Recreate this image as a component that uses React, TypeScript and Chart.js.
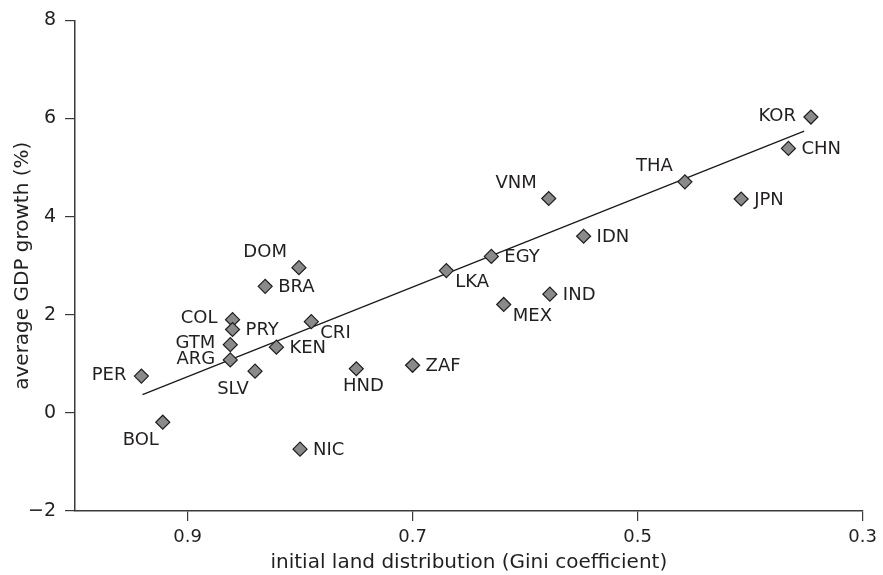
import React, { useEffect, useRef } from "react";
import { Chart, registerables } from "chart.js";

Chart.register(...registerables);

// ---- data ----
const countries = ["PER", "BOL", "COL", "PRY", "GTM", "ARG", "SLV", "KEN", "BRA", "DOM", "CRI", "NIC", "HND", "ZAF", "LKA", "EGY", "MEX", "VNM", "IND", "IDN", "THA", "JPN", "CHN", "KOR"];
const giniValues = [0.941, 0.922, 0.860, 0.860, 0.862, 0.862, 0.840, 0.821, 0.831, 0.801, 0.790, 0.800, 0.750, 0.700, 0.670, 0.630, 0.619, 0.579, 0.578, 0.548, 0.458, 0.408, 0.366, 0.346];
const growthValues = [0.75, -0.19, 1.90, 1.70, 1.39, 1.08, 0.85, 1.34, 2.58, 2.96, 1.86, -0.74, 0.90, 0.97, 2.90, 3.19, 2.21, 4.37, 2.42, 3.60, 4.71, 4.36, 5.39, 6.03];
// label placement relative to marker: R right, L left, TL above-left, BL below-left, BR below-right, B below
const labelPlacement = ["L", "BL", "L", "R", "L", "L", "BL", "R", "R", "TL", "BR", "R", "B", "R", "BR", "R", "BR", "TL", "R", "R", "TL", "R", "R", "L"];
const fitX = [0.94, 0.352];
const fitY = [0.37, 5.745];
const xTicks = [0.9, 0.7, 0.5, 0.3];
const yTicks = [-2, 0, 2, 4, 6, 8];

const FONT = "'DejaVu Sans', sans-serif";
const TEXT = "#231f20";
const AXIS = "#3a3a3a";

const labelPlugin = {
  id: "pointLabels",
  afterDatasetsDraw(chart: any) {
    const meta = chart.getDatasetMeta(0);
    const ctx = chart.ctx;
    ctx.save();
    ctx.font = `18px ${FONT}`;
    ctx.fillStyle = TEXT;
    ctx.textBaseline = "middle";
    meta.data.forEach((el: any, i: number) => {
      const p = labelPlacement[i];
      const t = countries[i];
      let x = el.x, y = el.y;
      if (p === "R") { ctx.textAlign = "left"; x += 13; y += 1; }
      else if (p === "L") { ctx.textAlign = "right"; x -= 15; y -= 1; }
      else if (p === "TL") { ctx.textAlign = "right"; x -= 12; y -= 15; }
      else if (p === "BL") { ctx.textAlign = "center"; x -= 22; y += 18; }
      else if (p === "BR") { ctx.textAlign = "left"; x += 9; y += 12; }
      else if (p === "B") { ctx.textAlign = "center"; x += 7; y += 18; }
      ctx.fillText(t, x, y);
    });
    ctx.restore();
  },
};

export default function App() {
  const ref = useRef<HTMLCanvasElement>(null);
  useEffect(() => {
    if (!ref.current) return;
    const chart = new Chart(ref.current, {
      type: "scatter",
      data: {
        datasets: [
          {
            label: "countries",
            data: giniValues.map((g, i) => ({ x: g, y: growthValues[i] })),
            pointStyle: "rectRot",
            pointRadius: 7,
            pointBackgroundColor: "#8a8a8a",
            pointBorderColor: "#1e1e1e",
            pointBorderWidth: 1.2,
            showLine: false,
            order: 1,
          },
          {
            label: "fit",
            data: fitX.map((g, i) => ({ x: g, y: fitY[i] })),
            showLine: true,
            borderColor: "#1a1a1a",
            borderWidth: 1.3,
            pointRadius: 0,
            order: 2,
          },
        ],
      },
      options: {
        animation: false,
        responsive: false,
        maintainAspectRatio: false,
        layout: { padding: { top: 20, right: 17, left: 0, bottom: 0 } },
        plugins: { legend: { display: false }, tooltip: { enabled: false } },
        scales: {
          x: {
            type: "linear",
            reverse: true,
            min: 0.3,
            max: 1.0,
            afterBuildTicks: (s: any) => { s.ticks = xTicks.map((v) => ({ value: v })); },
            afterFit: (s: any) => { s.height = 64; },
            grid: { display: true, drawOnChartArea: false, drawTicks: true, tickLength: 10, color: AXIS, lineWidth: 1.2 },
            border: { display: true, color: AXIS, width: 1.5 },
            ticks: { color: TEXT, font: { family: FONT, size: 18 }, padding: 6, callback: (v: any) => Number(v).toFixed(1) },
            title: { display: true, text: "initial land distribution (Gini coefficient)", color: TEXT, font: { family: FONT, size: 20 }, padding: { top: 0, bottom: 0 } },
          },
          y: {
            type: "linear",
            min: -2,
            max: 8,
            afterBuildTicks: (s: any) => { s.ticks = yTicks.map((v) => ({ value: v })); },
            afterFit: (s: any) => { s.width = 75; },
            grid: { display: true, drawOnChartArea: false, drawTicks: true, tickLength: 10, color: AXIS, lineWidth: 1.2 },
            border: { display: true, color: AXIS, width: 1.5 },
            ticks: { color: TEXT, font: { family: FONT, size: 19 }, padding: 9, callback: (v: any) => (v < 0 ? "\u2212" + Math.abs(v) : String(v)) },
            title: { display: true, text: "average GDP growth (%)", color: TEXT, font: { family: FONT, size: 20 }, padding: { top: 11, bottom: 0 } },
          },
        },
      },
      plugins: [labelPlugin],
    });
    return () => chart.destroy();
  }, []);
  return (
    <div style={{ position: "absolute", left: 0, top: 0, width: 883, height: 575, background: "#fff" }}>
      <canvas ref={ref} width={883} height={575} style={{ width: 883, height: 575 }} />
    </div>
  );
}
